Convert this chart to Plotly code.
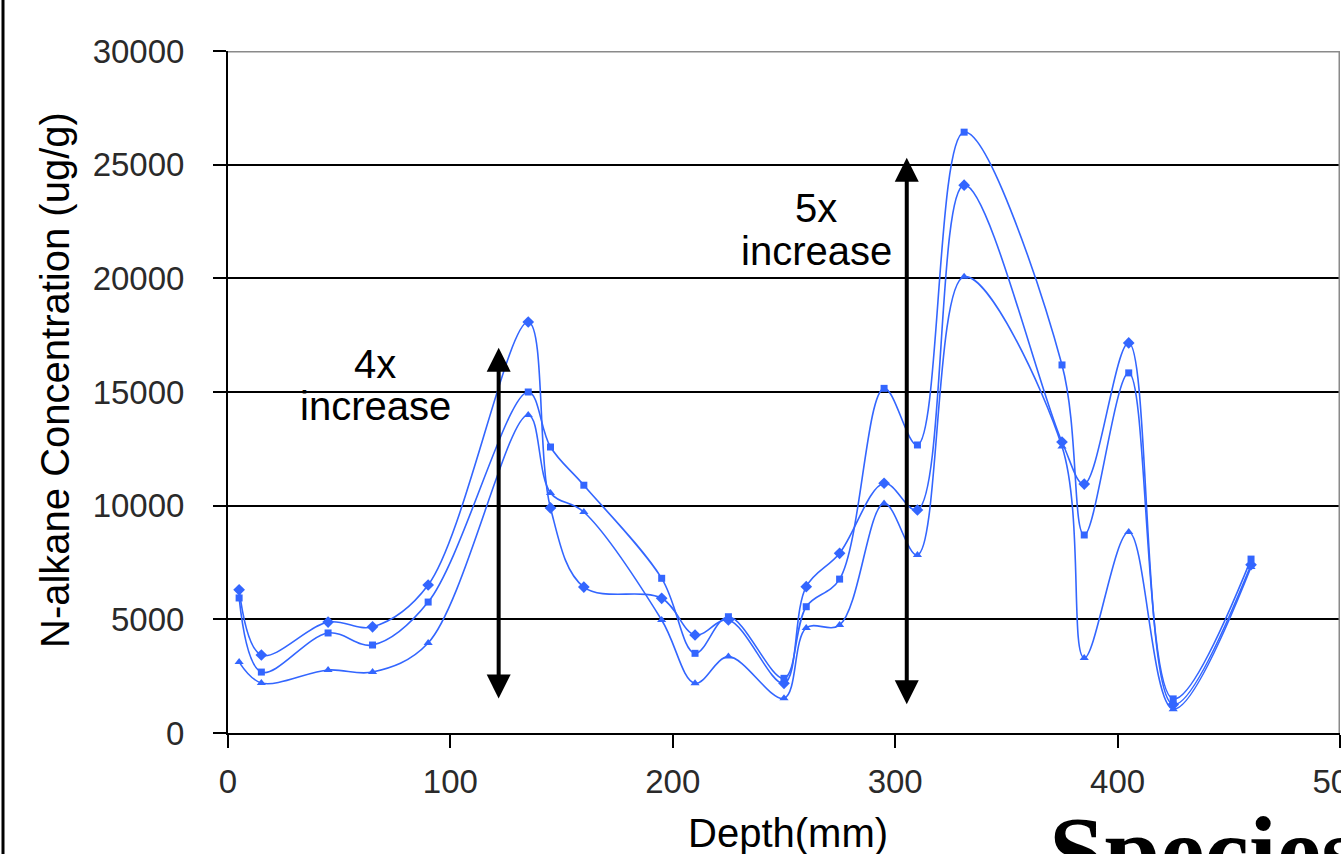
import plotly.graph_objects as go

# Depth of each sample (mm)
depth_mm = [5, 15, 45, 65, 90, 135, 145, 160, 195, 210, 225, 250, 260, 275,
            295, 310, 331, 375, 385, 405, 425, 460]

# N-alkane concentrations (ug/g) for the three sample series
series_diamond = [6300, 3430, 4880, 4670, 6510, 18080, 9900, 6420, 5925, 4310,
                  4970, 2185, 6435, 7905, 10985, 9810, 24100, 12800, 10950,
                  17160, 1250, 7400]
series_square = [5940, 2680, 4400, 3870, 5760, 15000, 12580, 10900, 6805, 3505,
                 5115, 2405, 5555, 6770, 15160, 12670, 26430, 16190, 8710,
                 15840, 1500, 7650]
series_triangle = [3120, 2200, 2770, 2680, 3960, 13990, 10560, 9720, 4970, 2185,
                   3360, 1525, 4620, 4750, 10100, 7830, 20070, 12600, 3300,
                   8840, 1050, 7300]

y_ticks = [0, 5000, 10000, 15000, 20000, 25000, 30000]
y_tick_text = ["0", "5000", "10000", "15000", "20000", "25000", "30000"]
x_ticks = [0, 100, 200, 300, 400, 500]
x_tick_text = ["0", "100", "200", "300", "400", "500"]

# Double-headed arrows: (depth, low, high) and their labels
arrow_4x = (121.7, 1450, 16950)
arrow_5x = (305.2, 1200, 25300)
label_4x = ["4x", "increase"]
label_5x = ["5x", "increase"]

BLUE = "rgb(51,102,255)"
W, H = 1341, 854
L, R, T, B = 228, 1, 51, 121

fig = go.Figure()
for vals, sym, size in [(series_diamond, "diamond", 9),
                        (series_square, "square", 7),
                        (series_triangle, "triangle-up", 8)]:
    fig.add_trace(go.Scatter(
        x=depth_mm, y=vals, mode="lines+markers",
        line=dict(color=BLUE, width=1.6, shape="spline", smoothing=1.0),
        marker=dict(symbol=sym, size=size, color=BLUE, line=dict(width=0)),
        showlegend=False, hoverinfo="x+y",
    ))

tick_font = dict(family="Liberation Sans, Arial, sans-serif", size=33, color="#2a2a2a")
label_font = dict(family="Liberation Sans, Arial, sans-serif", size=40, color="black")

fig.update_xaxes(
    range=[0, 500], tickvals=x_ticks, ticktext=x_tick_text, ticks="outside",
    ticklen=13, tickwidth=2, tickcolor="black", showline=True,
    linecolor="black", linewidth=2, showgrid=False, zeroline=False,
    tickfont=tick_font, ticklabelstandoff=5, ticklabeloverflow="allow",
    automargin=False,
)
fig.update_yaxes(
    range=[0, 30000], tickvals=y_ticks, ticktext=y_tick_text, ticks="outside",
    ticklen=13, tickwidth=2, tickcolor="black", showline=True,
    linecolor="black", linewidth=2, showgrid=True, gridcolor="black",
    gridwidth=2, zeroline=False, tickfont=tick_font, ticklabelstandoff=22,
    ticklabeloverflow="allow", automargin=False,
)

shapes = [
    # plot-area frame on the top and right edges
    dict(type="line", xref="x", yref="y", x0=0, x1=500, y0=30000, y1=30000,
         line=dict(color="#8a8a8a", width=3), layer="above"),
    dict(type="line", xref="x", yref="y", x0=500, x1=500, y0=0, y1=30000,
         line=dict(color="#8a8a8a", width=3), layer="above"),
    # slide frame on the left
    dict(type="line", xref="paper", yref="paper",
         x0=(3 - L) / (W - L - R), x1=(3 - L) / (W - L - R),
         y0=-0.3, y1=1.2, line=dict(color="black", width=3)),
]

annotations = []
for x, lo, hi in (arrow_4x, arrow_5x):
    annotations.append(dict(
        x=x, y=hi, ax=x, ay=lo, xref="x", yref="y", axref="x", ayref="y",
        text="", showarrow=True, arrowhead=2, arrowside="end+start",
        arrowsize=1.2, arrowwidth=4, arrowcolor="black",
    ))

def text_block(lines, xval, yvals):
    for txt, yv in zip(lines, yvals):
        annotations.append(dict(
            x=xval, y=yv, xref="x", yref="y", text=txt, showarrow=False,
            font=label_font, xanchor="center", yanchor="middle",
        ))

text_block(label_4x, 66.1, [16240, 14390])
text_block(label_5x, 264.4, [23100, 21200])

# axis titles
annotations.append(dict(
    x=(55 - L) / (W - L - R), y=(733 - 380) / 682, xref="paper", yref="paper",
    text="N-alkane Concentration (ug/g)", textangle=-90, showarrow=False,
    font=label_font, xanchor="center", yanchor="middle",
))
annotations.append(dict(
    x=(788 - L) / (W - L - R), y=(733 - 833) / 682, xref="paper", yref="paper",
    text="Depth(mm)", showarrow=False, font=label_font,
    xanchor="center", yanchor="middle",
))
# slide heading running off the bottom edge
annotations.append(dict(
    x=(1047 - L) / (W - L - R), y=(733 - 794) / 682, xref="paper", yref="paper",
    text="<b>Species</b>", showarrow=False,
    font=dict(family="Liberation Serif, Times New Roman, serif", size=100, color="black"),
    xanchor="left", yanchor="top",
))

fig.update_layout(
    width=W, height=H, autosize=False,
    margin=dict(l=L, r=R, t=T, b=B, pad=0),
    paper_bgcolor="white", plot_bgcolor="white",
    shapes=shapes, annotations=annotations,
)

fig.write_html("out.html")
